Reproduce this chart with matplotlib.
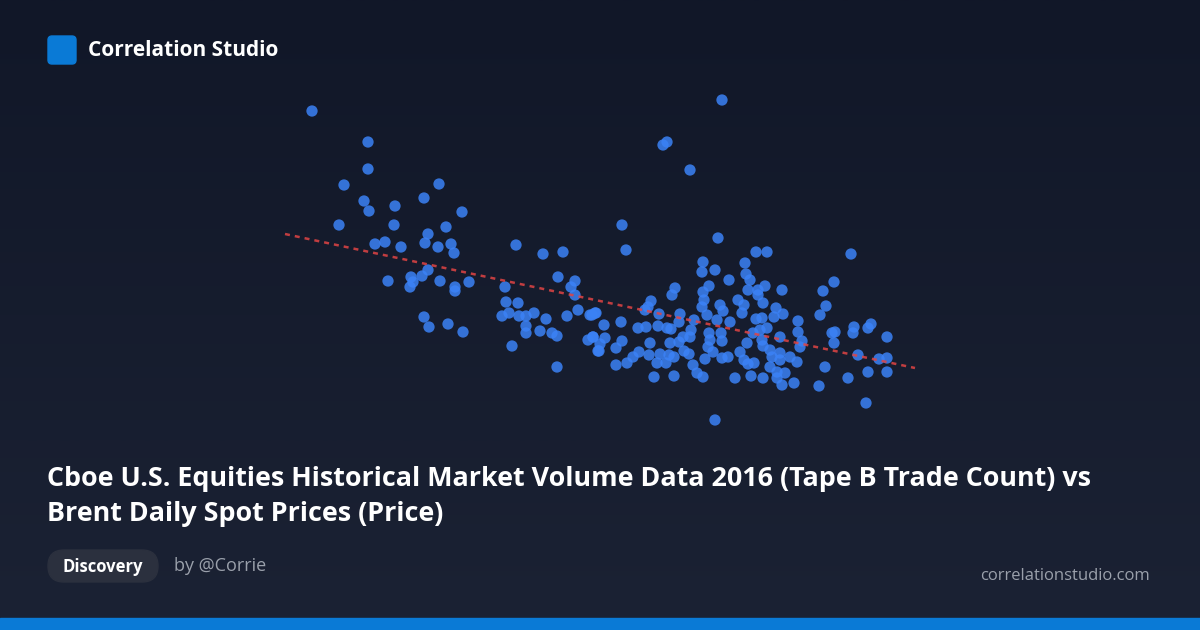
import numpy as np
import matplotlib
matplotlib.use("Agg")
import matplotlib.pyplot as plt
from matplotlib.patches import FancyBboxPatch, Rectangle
from matplotlib.colors import LinearSegmentedColormap

# Data (x = Tape B trade count, y = Brent price; relative units)
pts = [(312,111),(368,142),(368,169),(344,185),(364,201),(369,211),(395,206),(439,184),(424,198),(462,212),
(339,225),(394,225),(446,227),(428,234),(375,244),(385,242),(401,247),(425,243),(438,247),(451,244),(454,253),
(428,270),(422,276),(411,277),(413,282),(410,287),(388,281),(440,281),(455,287),(455,291),(469,282),(424,317),
(429,327),(448,324),(463,332),(516,245),(543,254),(563,252),(558,277),(575,281),(571,287),(575,295),(505,287),
(506,302),(518,303),(502,316),(509,313),(519,316),(526,316),(534,313),(546,319),(567,316),(578,310),(590,315),
(595,313),(526,326),(526,333),(540,331),(552,333),(557,336),(588,340),(593,337),(598,351),(512,346),(557,367),
(622,225),(626,250),(718,238),(756,252),(767,252),(851,254),(703,262),(715,270),(702,272),(745,263),(746,274),
(750,280),(729,280),(675,288),(672,295),(709,286),(703,292),(704,300),(702,307),(748,290),(758,290),(765,286),
(758,295),(763,303),(782,290),(834,282),(823,291),(826,306),(820,315),(738,300),(744,305),(742,313),(776,308),
(783,314),(774,317),(651,301),(648,307),(645,310),(659,314),(680,314),(720,305),(723,311),(717,320),(730,322),
(707,315),(694,320),(679,322),(762,318),(756,319),(798,321),(798,332),(802,341),(800,347),(835,332),(832,333),
(834,343),(854,327),(853,333),(871,324),(868,328),(887,337),(858,355),(879,359),(887,358),(887,372),(868,372),
(848,378),(825,367),(819,386),(866,403),(715,420),(596,313),(592,315),(621,322),(604,325),(593,337),(605,338),
(600,344),(599,351),(616,348),(622,341),(638,328),(646,327),(658,326),(667,328),(671,329),(650,343),(639,352),
(633,357),(627,363),(616,365),(649,355),(660,354),(657,363),(666,363),(669,355),(674,357),(670,343),(679,342),
(683,337),(691,330),(690,337),(684,351),(689,354),(693,365),(697,373),(703,377),(674,376),(654,377),(709,333),
(710,340),(708,347),(713,352),(705,359),(721,333),(722,341),(722,358),(728,357),(740,352),(744,360),(748,364),
(754,363),(747,343),(753,333),(760,330),(767,328),(762,340),(763,346),(770,350),(772,357),(780,353),(780,360),
(790,357),(797,362),(770,367),(777,372),(785,373),(777,378),(782,385),(794,383),(735,378),(751,376),(763,378),
(780,337),(663,145),(667,142),(690,170),(722,100)]
trade_count = [p[0] for p in pts]
price = [630 - p[1] for p in pts]
trend_x = [285, 915]
trend_y = [630 - 234, 630 - 368]

fig = plt.figure(figsize=(12, 6.3), dpi=100)
bg = fig.add_axes([0, 0, 1, 1])
grad = np.linspace(0, 1, 256).reshape(-1, 1)
cm = LinearSegmentedColormap.from_list("g", ["#111728", "#1b2234"])
bg.imshow(grad, aspect="auto", cmap=cm, extent=[0, 1200, 630, 0])
bg.set_xlim(0, 1200); bg.set_ylim(630, 0); bg.axis("off")
bg.add_patch(Rectangle((0, 618), 1200, 12, color="#0a7ad6"))
bg.add_patch(FancyBboxPatch((48, 36), 28, 28, boxstyle="round,pad=0,rounding_size=4", color="#0a7ad6"))
bg.text(88, 50, "Correlation Studio", color="white", fontsize=15, fontweight="bold", va="center", family="Open Sans")
bg.text(47, 479, "Cboe U.S. Equities Historical Market Volume Data 2016 (Tape B Trade Count) vs",
        color="white", fontsize=19.4, fontweight="bold", va="center", family="Open Sans")
bg.text(47, 514, "Brent Daily Spot Prices (Price)", color="white", fontsize=19.4, fontweight="bold", va="center", family="Open Sans")
bg.add_patch(FancyBboxPatch((48, 550), 110, 32, boxstyle="round,pad=0,rounding_size=16", color="#2b303e"))
bg.text(103, 567, "Discovery", color="white", fontsize=12, fontweight="bold", va="center", ha="center", family="Open Sans")
bg.text(174, 566, "by @Corrie", color="#9aa0ab", fontsize=13, va="center", family="Open Sans")
bg.text(1150, 576, "correlationstudio.com", color="#9aa0ab", fontsize=12, va="center", ha="right", family="Open Sans")

ax = fig.add_axes([0, 0, 1, 1])
ax.patch.set_alpha(0)
ax.set_xlim(0, 1200); ax.set_ylim(0, 630); ax.axis("off")
ax.plot(trend_x, trend_y, color="#e04444", ls=(0, (2, 2)), lw=1.8, alpha=0.85)
ax.scatter(trade_count, price, s=66, color="#3b82f6", alpha=0.85, edgecolors="none")
fig.savefig("out.png", dpi=100)
